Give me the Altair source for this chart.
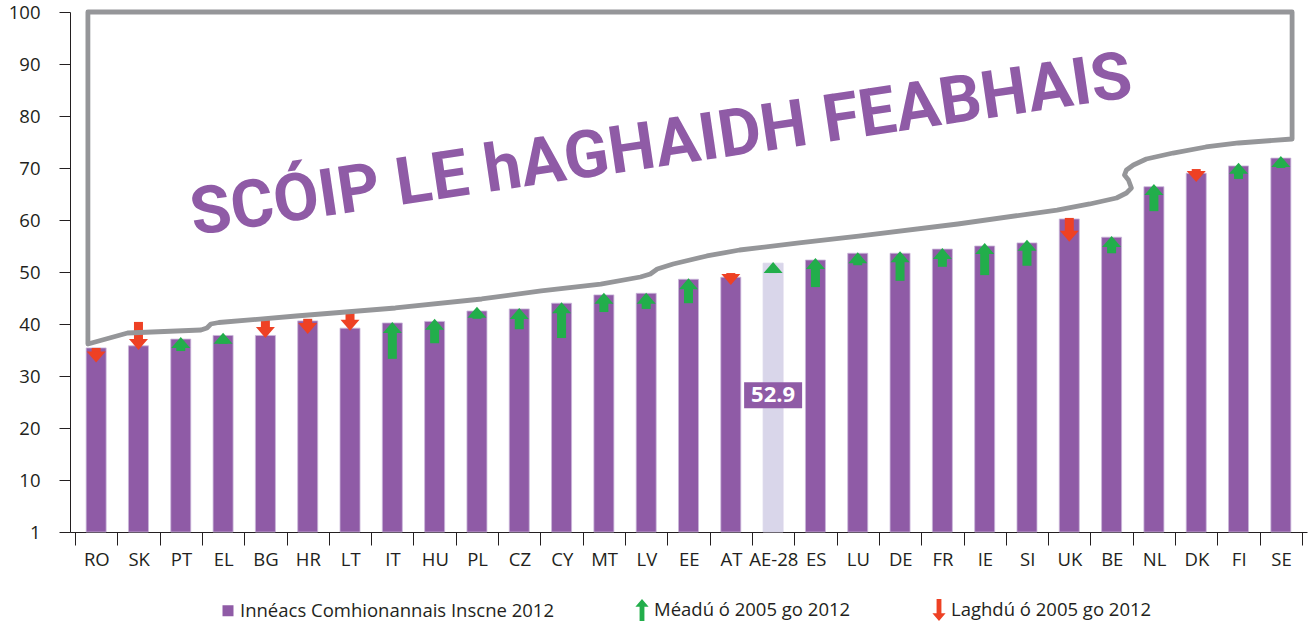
import json
import altair as alt
import pandas as pd

# ---------------- data ----------------
countries = ["RO", "SK", "PT", "EL", "BG", "HR", "LT", "IT", "HU", "PL", "CZ", "CY",
             "MT", "LV", "EE", "AT", "AE-28", "ES", "LU", "DE", "FR", "IE", "SI", "UK",
             "BE", "NL", "DK", "FI", "SE"]
gei_2012 = [35.4, 35.8, 37.1, 37.8, 37.8, 40.6, 39.2, 40.2, 40.5, 42.5, 42.9, 44.0,
            45.6, 45.9, 48.6, 49.0, 51.7, 52.3, 53.6, 53.6, 54.4, 55.0, 55.6, 60.2,
            56.7, 66.4, 69.0, 70.4, 71.9]
trend = ["down", "down", "up", "up", "down", "down", "down", "up", "up", "up", "up", "up",
         "up", "up", "up", "down", "up", "up", "up", "up", "up", "up", "up", "down",
         "up", "up", "down", "up", "up"]
arrow_from = [35.4, 40.4, 34.8, 36.2, 41.3, 41.0, 42.1, 33.3, 36.3, 41.0, 39.0, 37.3,
              42.3, 42.9, 44.0, 49.8, 49.8, 47.1, 51.3, 48.3, 51.0, 49.4, 51.2, 60.4,
              53.6, 61.7, 69.8, 67.9, 70.0]
arrow_to = [32.6, 35.0, 37.5, 38.3, 37.3, 38.1, 38.7, 40.4, 41.0, 43.3, 43.1, 44.2,
            46.0, 46.0, 48.8, 47.5, 51.9, 52.7, 53.8, 54.0, 54.6, 55.6, 56.2, 55.8,
            56.9, 66.9, 67.3, 71.0, 72.3]

highlight_country = "AE-28"
highlight_label = "52.9"
highlight_label_y = [26.3]

y_ticks = [0, 10, 20, 30, 40, 50, 60, 70, 80, 90, 100]

legend_labels = ["Innéacs Comhionannais Inscne 2012",
                 "Méadú ó 2005 go 2012",
                 "Laghdú ó 2005 go 2012"]

banner_text = ["SCÓIP LE hAGHAIDH FEABHAIS"]
banner_x = [13.85]
banner_y = [74.2]

# "scope for improvement" outline, in (category index, index value) units
outline_x = [0.305, 0.305, 1.243, 2.977, 3.118, 3.212, 3.40, 5.228, 7.572, 9.612,
             11.018, 12.425, 13.363, 13.598, 13.762, 14.137, 14.934, 15.708, 17.114,
             18.521, 20.865, 23.210, 23.983, 24.616, 24.851, 24.968, 24.898, 24.804,
             24.851, 25.015, 25.320, 25.953, 26.727, 27.500, 28.766, 28.766, 0.305]
outline_y = [100.0, 36.15, 38.27, 38.85, 39.23, 40.0, 40.29, 41.54, 43.08, 44.81,
             46.35, 47.69, 49.04, 49.62, 50.58, 51.54, 53.08, 54.23, 55.58,
             56.92, 59.23, 61.92, 63.08, 64.23, 65.19, 66.15, 67.69, 68.65,
             69.62, 70.58, 71.73, 72.88, 74.04, 74.81, 75.58, 100.0, 100.0]

# ---------------- styling ----------------
PURPLE = "#8F5BA6"
LIGHT = "#D9D6EA"
GREEN = "#22AE4B"
RED = "#EE4124"
GREY = "#959699"
INK = "#231F20"
FONT = "Open Sans"
FS = 18.5

W, H = 1237, 520
n = len(countries)
band = W / n

UP_HEAD = "M0,0L0.864,1L-0.864,1Z"
DOWN_HEAD = "M0,0L0.864,-1L-0.864,-1Z"
BOX = "M-1,-0.45L1,-0.45L1,0.45L-1,0.45Z"
LEG_SQUARE = "M-0.5,-0.5L0.5,-0.5L0.5,0.5L-0.5,0.5Z"
LEG_UP = "M0,-1L0.6,-0.3L0.22,-0.3L0.22,1L-0.22,1L-0.22,-0.3L-0.6,-0.3Z"
LEG_DOWN = "M0,1L0.6,0.3L0.22,0.3L0.22,-1L-0.22,-1L-0.22,0.3L-0.6,0.3Z"

df = pd.DataFrame({
    "country": countries,
    "pos": [i + 0.5 for i in range(n)],
    "gei": gei_2012,
    "trend": trend,
    "a_from": arrow_from,
    "a_to": arrow_to,
})
outline_df = pd.DataFrame({"ox": outline_x, "oy": outline_y,
                           "seq": list(range(len(outline_x)))})
banner_df = pd.DataFrame({"ox": banner_x, "oy": banner_y, "t": banner_text})
hi_pos = countries.index(highlight_country) + 0.5
callout_df = pd.DataFrame({"ox": [hi_pos], "oy": highlight_label_y, "t": [highlight_label]})
legend_df = pd.DataFrame({"series": legend_labels})

x_scale = alt.Scale(domain=[0, n], nice=False, zero=False)
y_scale = alt.Scale(domain=[0, 100], nice=False)

label_expr = "datum.value < %d ? %s[datum.value] : ''" % (n, json.dumps(countries))
x_axis = alt.Axis(values=list(range(n + 1)), labelExpr=label_expr, labelOffset=band / 2,
                  tickSize=13, labelFlush=False, labelOverlap=False, grid=False,
                  domainColor=INK, tickColor=INK, labelColor=INK, labelFont=FONT,
                  labelFontSize=FS, labelPadding=5, title=None)
y_axis = alt.Axis(values=y_ticks, labelExpr="datum.value == 0 ? '1' : datum.label",
                  tickSize=11, grid=False, domainColor=INK, tickColor=INK,
                  labelColor=INK, labelFont=FONT, labelFontSize=FS, labelPadding=19,
                  title=None)


def X(f):
    return alt.X(f, scale=x_scale, axis=x_axis)


def Y(f):
    return alt.Y(f, scale=y_scale, axis=y_axis)


base = alt.Chart(df)

bars = base.mark_bar(size=20, strokeWidth=0.8).encode(
    x=X("pos:Q"), y=Y("gei:Q"),
    color=alt.condition("datum.country == '%s'" % highlight_country,
                        alt.value(LIGHT), alt.value(PURPLE)),
    stroke=alt.condition("datum.country == '%s'" % highlight_country,
                         alt.value(LIGHT), alt.value("#C9B6D9")),
)

up = base.transform_filter("datum.trend == 'up'")
down = base.transform_filter("datum.trend == 'down'")

up_shaft = up.mark_bar(size=9, color=GREEN, y2Offset=6).encode(
    x=X("pos:Q"), y=Y("a_from:Q"), y2="a_to:Q")
up_head = up.mark_point(shape=UP_HEAD, size=484, filled=True, color=GREEN,
                        opacity=1, strokeWidth=0).encode(x=X("pos:Q"), y=Y("a_to:Q"))
down_shaft = down.mark_bar(size=9, color=RED, y2Offset=-6).encode(
    x=X("pos:Q"), y=Y("a_from:Q"), y2="a_to:Q")
down_head = down.mark_point(shape=DOWN_HEAD, size=484, filled=True, color=RED,
                            opacity=1, strokeWidth=0).encode(x=X("pos:Q"), y=Y("a_to:Q"))

outline = alt.Chart(outline_df).mark_line(
    color=GREY, strokeWidth=4.8, strokeJoin="round", strokeCap="round"
).encode(x=X("ox:Q"), y=Y("oy:Q"), order="seq:Q")

banner = alt.Chart(banner_df).mark_text(
    font="Roboto", fontWeight="bold", fontSize=66, color=PURPLE, angle=351.6,
    align="center", baseline="middle"
).encode(x=X("ox:Q"), y=Y("oy:Q"), text="t:N")

callout_box = alt.Chart(callout_df).mark_point(
    shape=BOX, size=3364, filled=True, color=PURPLE, opacity=1, strokeWidth=0
).encode(x=X("ox:Q"), y=Y("oy:Q"))
callout_text = alt.Chart(callout_df).mark_text(
    font=FONT, fontWeight="bold", fontSize=22, color="white",
    align="center", baseline="middle"
).encode(x=X("ox:Q"), y=Y("oy:Q"), text="t:N")

leg = alt.Legend(orient="none", legendX=147, legendY=587, direction="horizontal",
                 title=None, symbolSize=484, symbolStrokeWidth=0, labelFont=FONT,
                 labelFontSize=FS, labelColor=INK, labelOffset=1, columnPadding=77,
                 labelLimit=600)
legend_layer = alt.Chart(legend_df).mark_point(
    filled=True, clip=True, opacity=1, size=484
).encode(
    x=alt.value(-300), y=alt.value(-300),
    color=alt.Color("series:N", scale=alt.Scale(domain=legend_labels,
                                                range=[PURPLE, GREEN, RED]), legend=leg),
    shape=alt.Shape("series:N", scale=alt.Scale(domain=legend_labels,
                                                range=[LEG_SQUARE, LEG_UP, LEG_DOWN]),
                    legend=leg),
)

chart = alt.layer(
    bars, up_shaft, down_shaft, up_head, down_head, outline, banner,
    callout_box, callout_text, legend_layer
).properties(
    width=W, height=H,
    autosize=alt.AutoSizeParams(type="none"),
    padding={"left": 70, "top": 12, "right": 2, "bottom": 92},
).configure_view(stroke=None)

chart.save("out.html", embed_options={"renderer": "svg", "actions": False})
